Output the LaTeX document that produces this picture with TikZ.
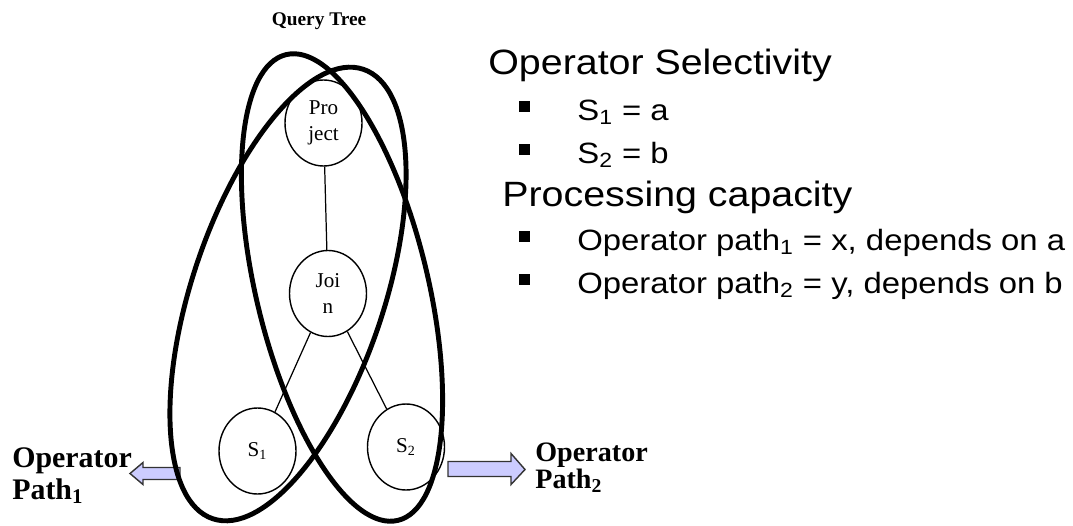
\documentclass[tikz,border=0pt]{standalone}
\usepackage{fontspec}
\setmainfont{Liberation Serif}
\newfontfamily\slidefont[FakeStretch=1.12]{Liberation Sans}
\usetikzlibrary{shapes.geometric}
\definecolor{lavender}{RGB}{204,204,255}

\begin{document}
\begin{tikzpicture}[
  qnode/.style={ellipse,draw,line width=.8pt,minimum width=1.54cm,minimum height=1.72cm,
    inner sep=1pt,align=center,font=\fontsize{12}{15}\selectfont},
  opbound/.style={line width=2.8pt},
  fatarrow/.style={draw=black!80,fill=lavender,line width=.8pt},
  oplabel/.style={anchor=north west,inner sep=0pt,align=left},
  sq/.style={fill=black,minimum size=.22cm,inner sep=0pt},
  slide/.style={anchor=base west,inner sep=0pt}]
  \useasboundingbox (0,0) rectangle (21.46,10.5);

  \node[anchor=base,font=\bfseries\fontsize{11}{13}\selectfont] (title) at (6.38,9.98) {Query Tree};
  \node[qnode] (proj) at (6.47,8.04) {Pro\\ject};
  \node[qnode] (join) at (6.56,4.63) {Joi\\n};
  \node[qnode] (s1) at (5.15,1.48) {S\textsubscript{1}};
  \node[qnode] (s2) at (8.12,1.56) {S\textsubscript{2}};
  \draw[line width=.7pt] (proj) -- (join) (join) -- (s1) (join) -- (s2);

  \draw[fatarrow] (2.60,1.03) -- (2.86,1.25) -- (2.86,1.15) -- (3.60,1.15)
    -- (3.60,0.91) -- (2.86,0.91) -- (2.86,0.81) -- cycle;
  \draw[fatarrow] (8.96,1.27) -- (10.22,1.27) -- (10.22,1.43) -- (10.50,1.11)
    -- (10.22,0.81) -- (10.22,0.97) -- (8.96,0.97) -- cycle;

  \draw[opbound] (5.76,4.62) circle [x radius=1.92,y radius=4.74,rotate=-18.5];
  \draw[opbound] (6.84,4.75) circle [x radius=1.72,y radius=4.79,rotate=13.5];

  \node[oplabel,font=\bfseries\fontsize{17}{18}\selectfont] (path1) at (0.24,1.55) {Operator\\Path\textsubscript{1}};
  \node[oplabel,font=\bfseries\fontsize{16}{15}\selectfont] (path2) at (10.70,1.64) {Operator\\Path\textsubscript{2}};

  \node[slide,font=\slidefont\fontsize{20}{24}\selectfont] (sel) at (9.76,9.0) {Operator Selectivity};
  \node[sq] (b1) at (10.48,8.36) {};
  \node[slide,font=\slidefont\fontsize{16.7}{20}\selectfont] (sel1) at (11.54,8.1) {S\textsubscript{1} = a};
  \node[sq] (b2) at (10.48,7.51) {};
  \node[slide,font=\slidefont\fontsize{16.7}{20}\selectfont] (sel2) at (11.54,7.24) {S\textsubscript{2} = b};
  \node[slide,font=\slidefont\fontsize{20}{24}\selectfont] (cap) at (10.04,6.37) {Processing capacity};
  \node[sq] (b3) at (10.48,5.78) {};
  \node[slide,font=\slidefont\fontsize{16.7}{20}\selectfont] (cap1) at (11.54,5.5) {Operator path\textsubscript{1} = x, depends on a};
  \node[sq] (b4) at (10.48,4.92) {};
  \node[slide,font=\slidefont\fontsize{16.7}{20}\selectfont] (cap2) at (11.54,4.64) {Operator path\textsubscript{2} = y, depends on b};
\end{tikzpicture}
\end{document}
